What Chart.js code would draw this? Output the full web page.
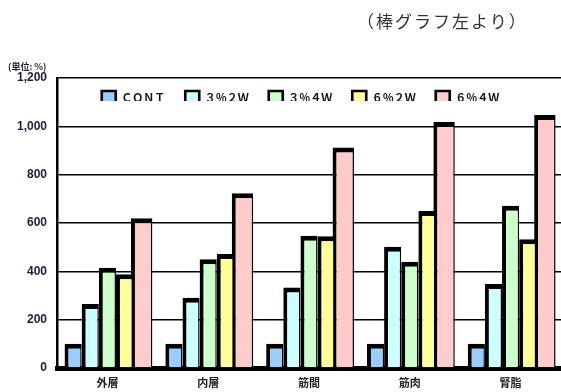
<!DOCTYPE html>
<html>
<head>
<meta charset="utf-8">
<script src="https://cdn.jsdelivr.net/npm/chart.js@4"></script>
<style>
    body { margin: 0; background: #fff; }
    #wrap { position: relative; width: 561px; height: 392px; }
    #titulo { position: absolute; left: 357px; top: 8px; font: 17px "Noto Sans CJK JP"; letter-spacing: 2px; color: #333; white-space: nowrap; }
    #unidade { position: absolute; left: 8px; top: 60px; font: bold 9px "Noto Sans CJK JP"; color: #223; white-space: nowrap; }
</style>
</head>
<body>
<div id="wrap">
    <canvas id="grafico" width="561" height="392"></canvas>
    <div id="titulo">（棒グラフ左より）</div>
    <div id="unidade">(単位: %)</div>
</div>
<script>
// === Dados ===
const categorias = ["外層", "内層", "筋間", "筋肉", "腎脂"];
const cont = [100, 100, 100, 100, 100];
const p3w2 = [265, 291, 333, 502, 348];
const p3w4 = [415, 450, 547, 440, 671];
const p6w2 = [388, 472, 545, 650, 533];
const p6w4 = [620, 723, 912, 1018, 1047];
const ticksY = [0, 200, 400, 600, 800, 1000, 1200];

// borda preta mais grossa em cima e na esquerda (efeito sombra)
const borda = { top: 5, left: 4, right: 1.5, bottom: 0 };

function serie(nome, dados, cor, largura) {
    return {
        label: nome,
        data: dados,
        backgroundColor: cor,
        borderColor: "#000",
        borderWidth: borda,
        borderSkipped: false,
        categoryPercentage: 0.85,
        barPercentage: largura
    };
}

// legenda horizontal dentro da area do grafico
const legendaDentro = {
    id: "legendaDentro",
    beforeInit(chart) {
        const fitOriginal = chart.legend.fit;
        chart.legend.fit = function () {
            fitOriginal.call(this);
            this.height = 0; // nao reserva espaco
        };
    },
    afterLayout(chart) {
        const lg = chart.legend;
        lg.top = chart.chartArea.top - 7;
        lg.bottom = lg.top + 30;
        lg.left = 40;
        lg.right = chart.chartArea.right;
        lg.width = lg.right - lg.left;
    }
};

const grafico = new Chart(document.getElementById("grafico"), {
    type: "bar",
    data: {
        labels: categorias,
        datasets: [
            serie("ＣＯＮＴ", cont, "#99ccff", 1),
            serie("３％２Ｗ", p3w2, "#ccffff", 1),
            serie("３％４Ｗ", p3w4, "#ccffcc", 1),
            serie("６％２Ｗ", p6w2, "#ffff99", 1),
            serie("６％４Ｗ", p6w4, "#ffcccc", 1.25)
        ]
    },
    plugins: [legendaDentro],
    options: {
        responsive: false,
        animation: false,
        layout: { padding: { top: 78, left: 0, right: 0, bottom: 0 } },
        plugins: {
            legend: {
                position: "top",
                labels: {
                    boxWidth: 14,
                    boxHeight: 14,
                    padding: 20,
                    color: "#111",
                    font: { family: "Noto Sans CJK JP", size: 11, weight: "bold" }
                }
            },
            tooltip: { enabled: false }
        },
        scales: {
            x: {
                grid: { display: false },
                border: { display: true, color: "#000", width: 5 },
                ticks: {
                    color: "#222",
                    padding: 0,
                    font: { family: "Noto Sans CJK JP", size: 11, weight: "bold" }
                },
                afterFit: s => { s.height = 24; }
            },
            y: {
                min: 0,
                max: 1200,
                afterBuildTicks: s => { s.ticks = ticksY.map(v => ({ value: v })); },
                grid: { color: "#000", lineWidth: 1.5, drawTicks: false },
                border: { display: true, color: "#000", width: 2.5 },
                ticks: {
                    color: "#1c1c3c",
                    padding: 10,
                    font: { family: "Liberation Sans", size: 12, weight: "bold" },
                    callback: v => v.toLocaleString("en-US")
                },
                afterFit: s => { s.width = 57; }
            }
        }
    }
});
</script>
</body>
</html>
